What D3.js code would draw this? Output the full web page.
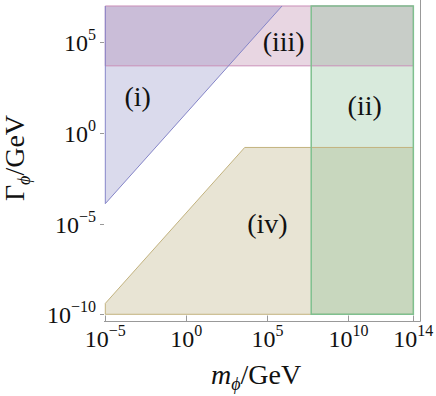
<!DOCTYPE html>
<html><head><meta charset="utf-8">
<script src="https://cdn.jsdelivr.net/npm/d3@7"></script>
<style>body{margin:0;background:#fff}svg{display:block}text{font-family:"Liberation Serif","Times New Roman",serif}</style>
</head><body><svg id="c" width="436" height="396"></svg>
<script>
// log10 exponents
const xTicks = [-5, 0, 5, 10, 14];
const yTicks = [-10, -5, 0, 5];
// region polygons in (log10 m, log10 Gamma)
const regionNames = ["iii", "i", "iv", "ii"];
const regionPoints = {
  iii: [[-5, 7], [14, 7], [14, 3.7], [-5, 3.7]],
  i:   [[-5, 7], [5.9, 7], [-5, -3.9]],
  iv:  [[-5, -10], [-5, -9.4], [3.6, -0.8], [14, -0.8], [14, -10]],
  ii:  [[7.7, 7], [14, 7], [14, -10], [7.7, -10]]
};
const regionFill = {iii: "rgb(178,118,158)", i: "rgb(132,132,192)", iv: "rgb(178,165,112)", ii: "rgb(125,185,138)"};
const regionStroke = {iii: "#c98fb8", i: "#8585c8", iv: "#c2b27e", ii: "#7fc08f"};
const regionStrokeW = {iii: 1, i: 1, iv: 1, ii: 1.5};
const labelNames = ["(i)", "(ii)", "(iii)", "(iv)"];
const labelPos = [[-3, 2], [11, 1.5], [6, 5], [5, -5]];

const svg = d3.select("#c");
const x = d3.scaleLinear().domain([-5, 14.41]).range([105.3, 420]);
const y = d3.scaleLinear().domain([-10.37, 7.33]).range([321, 0]);

const line = d3.line().x(d => x(d[0])).y(d => y(d[1]));
regionNames.forEach(n => {
  svg.append("path").attr("d", line(regionPoints[n]) + "Z")
    .attr("fill", regionFill[n]).attr("fill-opacity", 0.3).attr("stroke", "none");
});
regionNames.forEach(n => {
  const pts = regionPoints[n];
  const d = n === "i" ? line([pts[1], pts[2], pts[0]]) : line(pts) + "Z";
  svg.append("path").attr("d", d)
    .attr("fill", "none").attr("stroke", regionStroke[n]).attr("stroke-width", regionStrokeW[n]);
});

// frame: bottom & right
svg.append("line").attr("x1", 104).attr("x2", 420.5).attr("y1", 321.5).attr("y2", 321.5).attr("stroke", "#999").attr("stroke-width", 1);
svg.append("line").attr("x1", 420.5).attr("x2", 420.5).attr("y1", 0).attr("y2", 321.5).attr("stroke", "#999").attr("stroke-width", 1);

// x ticks (inward)
const gx = svg.append("g");
xTicks.forEach(t => {
  const px = Math.round(x(t)) + 0.5;
  gx.append("line").attr("x1", px).attr("x2", px).attr("y1", 321).attr("y2", 315.5).attr("stroke", "#999");
  const tx = gx.append("text").attr("x", x(t)).attr("y", 347).attr("text-anchor", "middle")
    .attr("font-size", 24).attr("fill", "#111");
  tx.append("tspan").text("10");
  tx.append("tspan").attr("dy", -11).attr("font-size", 16).text(t < 0 ? "\u2212" + (-t) : String(t));
});
// y ticks (outward)
const gy = svg.append("g");
yTicks.forEach(t => {
  const py = Math.round(y(t)) + 0.5;
  gy.append("line").attr("x1", 100).attr("x2", 104).attr("y1", py).attr("y2", py).attr("stroke", "#999");
  const ty = gy.append("text").attr("x", 96).attr("y", y(t) + 9).attr("text-anchor", "end")
    .attr("font-size", 24).attr("fill", "#111");
  ty.append("tspan").text("10");
  ty.append("tspan").attr("dy", -11).attr("font-size", 16).text(t < 0 ? "\u2212" + (-t) : String(t));
});

// region labels
labelNames.forEach((s, i) => {
  svg.append("text").attr("x", x(labelPos[i][0])).attr("y", y(labelPos[i][1]) + 9)
    .attr("text-anchor", "middle").attr("font-size", 28).attr("fill", "#111").text(s);
});

// axis labels
const xl = svg.append("text").attr("x", 256).attr("y", 384).attr("text-anchor", "middle")
  .attr("font-size", 28).attr("fill", "#111");
xl.append("tspan").attr("font-style", "italic").text("m");
xl.append("tspan").attr("dy", 6).attr("font-size", 18).attr("font-style", "italic").text("\u03d5");
xl.append("tspan").attr("dy", -6).text("/GeV");

const yl = svg.append("text").attr("transform", "translate(24,158) rotate(-90)").attr("text-anchor", "middle")
  .attr("font-size", 28).attr("fill", "#111");
yl.append("tspan").text("\u0393");
yl.append("tspan").attr("dy", 6).attr("font-size", 18).attr("font-style", "italic").text("\u03d5");
yl.append("tspan").attr("dy", -6).text("/GeV");
</script></body></html>
